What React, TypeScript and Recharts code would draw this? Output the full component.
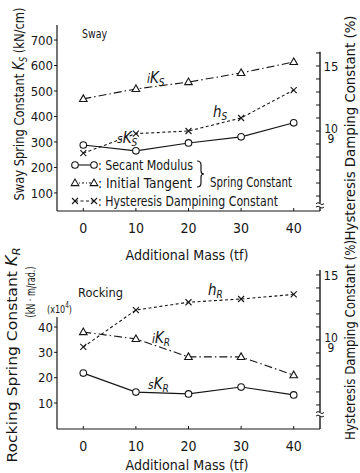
import React from "react";
import { LineChart, Line, XAxis, YAxis, ReferenceLine, ReferenceDot } from "recharts";

const FONT = "'DejaVu Sans Condensed', 'Liberation Sans Narrow', sans-serif";
const INK = "#161616";

const masses = [0, 10, 20, 30, 40];
const massTicks = [0, 10, 20, 30, 40];

// sway spring constant (kN/cm) and damping (%)
const swaySecant = [288, 265, 296, 320, 375];
const swayInitial = [469, 508, 535, 571, 614];
const swayDamping = [8.3, 9.8, 10.0, 11.0, 13.15];
const swayTicks = [100, 200, 300, 400, 500, 600, 700];
const swayDampTicks = [5, 6, 7, 8, 9, 10, 11, 12, 13, 14, 15, 16];

// rocking spring constant (x10^4 kN·m/rad) and damping (%)
const rockSecant = [21.8, 14.3, 13.6, 16.3, 13.2];
const rockInitial = [38, 35.3, 28.2, 28.2, 21];
const rockDamping = [9.46, 12.3, 12.9, 13.15, 13.5];
const rockTicks = [10, 20, 30, 40];
const rockDampTicks = [5, 6, 7, 8, 9, 10, 11, 12, 13, 14, 15];

const swayData = masses.map((m, i) => ({ mass: m, sK: swaySecant[i], iK: swayInitial[i], h: swayDamping[i] }));
const rockData = masses.map((m, i) => ({ mass: m, sK: rockSecant[i], iK: rockInitial[i], h: rockDamping[i] }));

const DASHDOT = "8 3 1.5 3";
const DASHED = "3 2.5";

const Circle = ({ cx, cy }: any) => (
  <circle cx={cx} cy={cy} r={3.3} fill="#fff" stroke={INK} strokeWidth={1.1} />
);
const Tri = ({ cx, cy }: any) => (
  <polygon
    points={`${cx},${cy - 4} ${cx - 3.8},${cy + 2.6} ${cx + 3.8},${cy + 2.6}`}
    fill="#fff"
    stroke={INK}
    strokeWidth={1.1}
  />
);
const Cross = ({ cx, cy }: any) => (
  <path
    d={`M${cx - 3},${cy - 3}L${cx + 3},${cy + 3}M${cx - 3},${cy + 3}L${cx + 3},${cy - 3}`}
    stroke={INK}
    strokeWidth={1.1}
  />
);

function MassTick({ x, y, payload }: any) {
  return (
    <g>
      <line x1={x} x2={x} y1={y} y2={y - 3} stroke={INK} />
      <text x={x} y={y + 22} textAnchor="middle" fontSize={14} fontFamily={FONT} fill={INK}>
        {payload.value}
      </text>
    </g>
  );
}

// right axis: ticks point inward, only 15 and 10/9 are labelled
function DampTick({ x, y, payload }: any) {
  const v = payload.value;
  return (
    <g fontSize={12} fontFamily={FONT} fill={INK}>
      <line x1={x} x2={x - 4} y1={y} y2={y} stroke={INK} />
      {v === 15 && (
        <text x={x + 11} y={y + 5} fontSize={13} textAnchor="middle">15</text>
      )}
      {v === 10 && (
        <>
          <text x={x + 11} y={y + 2} textAnchor="middle">10</text>
          <text x={x + 11} y={y + 12} textAnchor="middle">9</text>
        </>
      )}
    </g>
  );
}

const BreakMark = ({ cx, cy }: any) => (
  <g>
    <rect x={cx - 2} y={cy - 2} width={4} height={4} fill="#fff" />
    <path
      d={`M${cx - 4},${cy - 1.5} q2,-2 4,0 t4,0 M${cx - 4},${cy + 2} q2,-2 4,0 t4,0`}
      fill="none"
      stroke={INK}
      strokeWidth={1}
    />
  </g>
);

function Sym({ x, y, pre, main, sub }: any) {
  return (
    <text x={x} y={y} fontStyle="italic" fontSize={15} fontFamily={FONT} fill={INK}>
      {pre && <tspan fontSize={12}>{pre}</tspan>}
      <tspan>{main}</tspan>
      <tspan fontSize={10} dy={3}>{sub}</tspan>
    </text>
  );
}

function Panel({ data, height, top, xHeight, left, right, leftTicks, rightTicks, leftAxis, rightAxis, breakAt }: any) {
  return (
    <LineChart
      width={360}
      height={height}
      data={data}
      margin={{ top, right: 0, bottom: 0, left: 0 }}
    >
      <XAxis
        dataKey="mass"
        type="number"
        domain={[-5, 45]}
        ticks={massTicks}
        interval={0}
        height={xHeight}
        tickSize={0}
        tickMargin={0}
        axisLine={{ stroke: INK, strokeWidth: 1.2 }}
        tickLine={false}
        tick={(p: any) => <MassTick {...p} />}
      />
      <YAxis
        yAxisId="L"
        width={57}
        domain={left}
        allowDataOverflow
        ticks={leftTicks}
        interval={0}
        tickSize={3}
        tickMargin={1}
        axisLine={false}
        tickLine={{ stroke: INK }}
        tick={{ fill: INK, fontSize: 13, fontFamily: FONT }}
      />
      <YAxis
        yAxisId="R"
        orientation="right"
        width={40}
        domain={right}
        allowDataOverflow
        ticks={rightTicks}
        interval={0}
        tickSize={0}
        tickMargin={0}
        axisLine={false}
        tickLine={false}
        tick={(p: any) => <DampTick {...p} />}
      />
      <ReferenceLine yAxisId="L" segment={[{ x: -5, y: leftAxis[0] }, { x: -5, y: leftAxis[1] }]} stroke={INK} strokeWidth={1.2} ifOverflow="visible" />
      <ReferenceLine yAxisId="R" segment={[{ x: 45, y: rightAxis[0] }, { x: 45, y: rightAxis[1] }]} stroke={INK} strokeWidth={1.4} ifOverflow="visible" />
      <ReferenceDot yAxisId="R" x={45} y={breakAt} r={0} shape={(p: any) => <BreakMark {...p} />} ifOverflow="visible" />
      <Line yAxisId="L" dataKey="sK" stroke={INK} strokeWidth={1.1} isAnimationActive={false}
        dot={(p: any) => <Circle key={p.index} cx={p.cx} cy={p.cy} />} />
      <Line yAxisId="L" dataKey="iK" stroke={INK} strokeWidth={1.1} strokeDasharray={DASHDOT} isAnimationActive={false}
        dot={(p: any) => <Tri key={p.index} cx={p.cx} cy={p.cy} />} />
      <Line yAxisId="R" dataKey="h" stroke={INK} strokeWidth={1.1} strokeDasharray={DASHED} isAnimationActive={false}
        dot={(p: any) => <Cross key={p.index} cx={p.cx} cy={p.cy} />} />
    </LineChart>
  );
}

const txt = { fontFamily: FONT, fill: INK } as const;
const squeeze = { lengthAdjust: "spacingAndGlyphs" } as const;

export default function App() {
  return (
    <div style={{ position: "absolute", left: 0, top: 0, width: 360, height: 473, background: "#fff" }}>
      <div style={{ position: "absolute", left: 0, top: 0 }}>
        <Panel
          data={swayData}
          height={265}
          top={25}
          xHeight={54}
          left={[29, 759]}
          right={[3.85, 18.15]}
          leftTicks={swayTicks}
          rightTicks={swayDampTicks}
          leftAxis={[29, 759]}
          rightAxis={[3.85, 16.1]}
          breakAt={4.3}
        />
      </div>
      <div style={{ position: "absolute", left: 0, top: 265 }}>
        <Panel
          data={rockData}
          height={208}
          top={5}
          xHeight={44}
          left={[-0.26, 62.5]}
          right={[3.15, 15.38]}
          leftTicks={rockTicks}
          rightTicks={rockDampTicks}
          leftAxis={[-0.26, 43.9]}
          rightAxis={[3.15, 15.38]}
          breakAt={4.3}
        />
      </div>
      <svg width={360} height={473} style={{ position: "absolute", left: 0, top: 0, pointerEvents: "none" }}>
        {/* panel names */}
        <text x={82} y={38} fontSize={13} textLength={25} {...squeeze} {...txt}>Sway</text>
        <text x={78} y={297} fontSize={13} textLength={45} {...squeeze} {...txt}>Rocking</text>

        {/* axis titles */}
        <text transform="rotate(-90 24 104)" x={24} y={104} textAnchor="middle" fontSize={14} textLength={193} {...squeeze} {...txt}>
          Sway Spring Constant <tspan fontStyle="italic" fontSize={15}>K</tspan>
          <tspan fontStyle="italic" fontSize={10} dy={3}>S</tspan>
          <tspan dy={-3}> (kN/cm)</tspan>
        </text>
        <text transform="rotate(-90 17 355)" x={17} y={355} textAnchor="middle" fontSize={14} textLength={215} {...squeeze} {...txt}>
          Rocking Spring Constant <tspan fontStyle="italic" fontSize={15}>K</tspan>
          <tspan fontStyle="italic" fontSize={10} dy={3}>R</tspan>
        </text>
        <text transform="rotate(-90 35 292)" x={35} y={292} textAnchor="middle" fontSize={12} textLength={51} {...squeeze} {...txt}>
          (kN · m/rad.)
        </text>
        <text x={47} y={313} fontSize={11} textLength={25} {...squeeze} {...txt}>
          (x10<tspan fontSize={8} dy={-5}>4</tspan><tspan dy={5}>)</tspan>
        </text>
        <text transform="rotate(-90 355 128)" x={355} y={128} textAnchor="middle" fontSize={14} textLength={225} {...squeeze} {...txt}>
          Hysteresis Damping Constant (%)
        </text>
        <text transform="rotate(-90 355 340)" x={355} y={340} textAnchor="middle" fontSize={14} textLength={200} {...squeeze} {...txt}>
          Hysteresis Damping Constant (%)
        </text>
        <text x={187} y={260} textAnchor="middle" fontSize={14} textLength={123} {...squeeze} {...txt}>Additional Mass (tf)</text>
        <text x={187} y={470} textAnchor="middle" fontSize={14} textLength={123} {...squeeze} {...txt}>Additional Mass (tf)</text>

        {/* curve labels */}
        <Sym x={147} y={83} pre="i" main="K" sub="S" />
        <Sym x={213} y={117} main="h" sub="S" />
        <Sym x={117} y={143} pre="s" main="K" sub="S" />
        <Sym x={208} y={295} main="h" sub="R" />
        <Sym x={152} y={343} pre="i" main="K" sub="R" />
        <Sym x={148} y={389} pre="s" main="K" sub="R" />

        {/* legend */}
        <line x1={75} x2={94} y1={165} y2={165} stroke={INK} strokeWidth={1.1} />
        <Circle cx={75} cy={165} />
        <Circle cx={94} cy={165} />
        <line x1={75} x2={94} y1={183} y2={183} stroke={INK} strokeWidth={1.1} strokeDasharray="2 2 1 2" />
        <Tri cx={75} cy={183} />
        <Tri cx={94} cy={183} />
        <line x1={75} x2={94} y1={201} y2={201} stroke={INK} strokeWidth={1.1} strokeDasharray={DASHED} />
        <Cross cx={75} cy={201} />
        <Cross cx={94} cy={201} />
        <text x={98} y={170} fontSize={14} textLength={95} {...squeeze} {...txt}>: Secant Modulus</text>
        <text x={98} y={188} fontSize={14} textLength={94} {...squeeze} {...txt}>: Initial Tangent</text>
        <text x={98} y={206} fontSize={14} textLength={180} {...squeeze} {...txt}>: Hysteresis Dampining Constant</text>
        <path d="M197,161 q4,0 4,4 v6 q0,3 3,3 q-3,0 -3,3 v6 q0,4 -4,4" fill="none" stroke={INK} strokeWidth={1.2} />
        <text x={210} y={187} fontSize={14} textLength={82} {...squeeze} {...txt}>Spring Constant</text>
      </svg>
    </div>
  );
}
